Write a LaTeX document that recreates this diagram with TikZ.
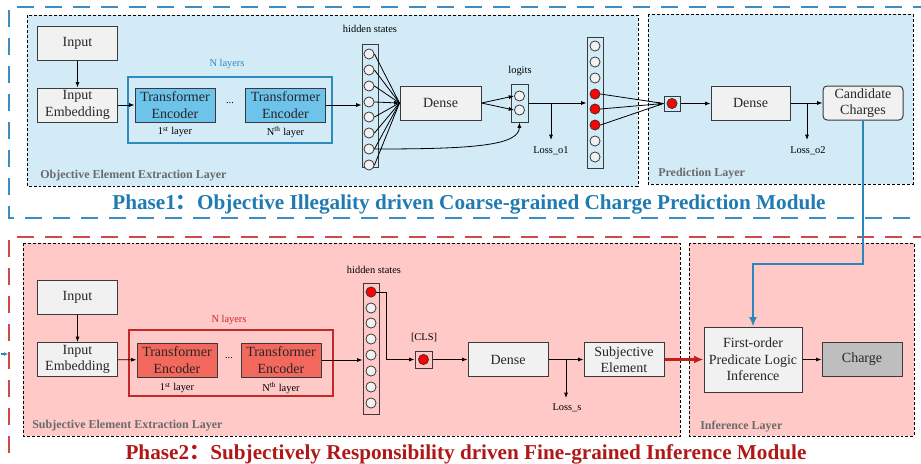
\documentclass[tikz,border=0pt]{standalone}
\usepackage{fontspec}
\setmainfont{Liberation Serif}
\newfontfamily\cjk{Noto Sans CJK SC}
\usetikzlibrary{arrows.meta,calc}
\definecolor{bluebg}{HTML}{D2EBF7}
\definecolor{pinkbg}{HTML}{FFC9C7}
\definecolor{titleblue}{HTML}{1F7BB2}
\definecolor{dashblue}{HTML}{3A8EC4}
\definecolor{teblue}{HTML}{6EC3EB}
\definecolor{nblue}{HTML}{2E8BC0}
\definecolor{titlered}{HTML}{B01818}
\definecolor{dashred}{HTML}{D04848}
\definecolor{tered}{HTML}{F2685C}
\definecolor{nred}{HTML}{C42828}
\definecolor{boxfill}{HTML}{F1F1F1}
\definecolor{boxline}{HTML}{3A3A3A}
\definecolor{chargefill}{HTML}{BEBEBE}
\definecolor{lblgray}{HTML}{6A6A6A}
\definecolor{conblue}{HTML}{2A86BB}
\definecolor{conred}{HTML}{C0201A}
\begin{document}
\begin{tikzpicture}[x=0.75pt,y=-0.75pt,
  box/.style={draw=boxline, fill=boxfill, line width=0.75pt, minimum width=60pt, minimum height=25.5pt, inner sep=0pt, align=center, text=black!85, font=\fontsize{10.5}{12.4}\selectfont},
  tebox/.style={box, fill=teblue},
  terbox/.style={box, fill=tered},
  circ/.style={circle, draw=boxline, fill=boxfill, minimum size=7.6pt, inner sep=0pt, line width=0.6pt},
  rcirc/.style={circ, fill=red},
  colbox/.style={draw=boxline, line width=0.75pt, inner sep=0pt},
  small/.style={font=\fontsize{7.8}{9}\selectfont, inner sep=0pt},
  layer/.style={draw=black, line width=0.6pt, dash pattern=on 2.2pt off 1.5pt},
  layerlbl/.style={font=\bfseries\fontsize{9}{10}\selectfont, text=lblgray, inner sep=0pt, anchor=west},
  arr/.style={-{Latex[length=4pt,width=3pt]}, line width=0.6pt},
  ln/.style={line width=0.6pt},
  outerdash/.style={line width=1.5pt, dash pattern=on 12.75pt off 8.25pt}
]
\useasboundingbox (0,0) rectangle (921,464);
% ---------- Phase 1 ----------
\draw[outerdash, draw=dashblue] (930,7) -- (9,7) -- (9,218) -- (930,218);
\draw[layer, fill=bluebg] (27,15) rectangle (638,186);
\draw[layer, fill=bluebg] (648,14) rectangle (913,184);
\node[layerlbl] (oel) at (40,176) {Objective Element Extraction Layer};
\node[layerlbl] (pl) at (658,174) {Prediction Layer};
\node[font=\bfseries\fontsize{15.9}{18}\selectfont, text=titleblue, inner sep=0pt] (t1) at (469,204) {Phase1{\cjk ：}Objective Illegality driven Coarse-grained Charge Prediction Module};

\node[box] (in1) at (77.5,43) {Input};
\node[box] (em1) at (77.5,105) {Input\\Embedding};
\node[draw=nblue, line width=1.5pt, minimum width=153pt, minimum height=49.5pt, inner sep=0pt] (nl1) at (229.5,110) {};
\node[small, text=nblue] (nt1) at (227,64) {N layers};
\node[tebox] (te1) at (175,105) {Transformer\\Encoder};
\node[tebox] (ten) at (285.5,105) {Transformer\\Encoder};
\node[small] (dots1) at (230,103) {...};
\node[small] (l1a) at (175,132) {1\textsuperscript{st} layer};
\node[small] (l1b) at (285.5,132) {N\textsuperscript{th} layer};
\node[small] (hs1t) at (370,29) {hidden states};
\node[colbox, minimum width=12pt, minimum height=92.25pt] (hs1) at (370,105.5) {};
\foreach \i/\y in {1/54,2/70,3/86,4/102,5/117,6/133,7/149,8/165}
  \node[circ] (h\i) at (369,\y) {};
\node[box, minimum width=60.75pt] (d1) at (440.5,103) {Dense};
\node[small] (lgt) at (520,71) {logits};
\node[colbox, minimum width=12.75pt, minimum height=28.5pt] (lg) at (519.5,103) {};
\node[circ] (g1) at (519.5,96) {};
\node[circ] (g2) at (519.5,110) {};
\node[colbox, minimum width=12pt, minimum height=98.25pt] (c) at (595,102.5) {};
\foreach \i/\y in {1/46,2/62,3/78,7/141,8/157}
  \node[circ] (c\i) at (595,\y) {};
\foreach \i/\y in {4/94,5/109,6/125}
  \node[rcirc] (c\i) at (595,\y) {};
\node[colbox, minimum width=12pt, minimum height=11.25pt] (sb) at (672,103.5) {};
\node[rcirc] (sbc) at (672,103.5) {};
\node[box, minimum width=59.25pt] (d2) at (750.5,103) {Dense};
\node[box, rounded corners=3pt] (cand) at (863,103) {Candidate\\Charges};
\coordinate (b1) at (551,103);
\coordinate (lo1e) at (551,140);
\node[small] (lo1) at (551,151) {Loss\_o1};
\coordinate (b2) at (807,103);
\coordinate (lo2e) at (807,140);
\node[small] (lo2) at (808,151) {Loss\_o2};

\draw[arr] (in1) -- (em1);
\draw[arr] (em1) -- (te1);
\draw[arr] (ten.east) -- (ten.east -| hs1.west);
\foreach \i in {1,2,3,5,6,7,8} \draw[ln] (h\i.east) -- (d1.west);
\draw[arr] (h4.east) -- (d1.west);
\draw[arr] (d1.east) -- (g1.west);
\draw[arr] (d1.east) -- (g2.west);
\draw[arr] (h7.east) .. controls (470,149) and (519,146) .. (lg.south);
\draw[arr] (lg.east) -- (lg.east -| c.west);
\draw[arr] (b1) -- (lo1e);
\draw[ln] (c4.east) -- (sb.west);
\draw[ln] (c6.east) -- (sb.west);
\draw[arr] (c5.east) -- (sb.west);
\draw[arr] (sb.east) -- (sb.east -| d2.west);
\draw[arr] (d2) -- (cand);
\draw[arr] (b2) -- (lo2e);

% ---------- Phase 2 ----------
\draw[outerdash, draw=dashred] (930,237) -- (9,237) -- (9,480);
\draw[layer, fill=pinkbg] (23,243) rectangle (680,436);
\draw[layer, fill=pinkbg] (689,243) rectangle (914,436);
\node[layerlbl] (sel) at (32,426) {Subjective Element Extraction Layer};
\node[layerlbl] (il) at (700,427) {Inference Layer};
\node[font=\bfseries\fontsize{15.9}{18}\selectfont, text=titlered, inner sep=0pt] (t2) at (466,454) {Phase2{\cjk ：}Subjectively Responsibility driven Fine-grained Inference Module};
\coordinate (ta) at (1,354);
\coordinate (tb) at (8,354);
\draw[-{Latex[length=3pt,width=3pt]}, line width=0.8pt, conblue] (ta) -- (tb);

\node[box] (in2) at (77.5,297) {Input};
\node[box] (em2) at (77.5,359.5) {Input\\Embedding};
\node[draw=nred, line width=1.5pt, minimum width=153pt, minimum height=49.5pt, inner sep=0pt] (nl2) at (231,363) {};
\node[small, text=nred] (nt2) at (229,320) {N layers};
\node[terbox] (re1) at (177,360) {Transformer\\Encoder};
\node[terbox] (ren) at (281,360) {Transformer\\Encoder};
\node[small] (dots2) at (229,358) {...};
\node[small] (l2a) at (177,388) {1\textsuperscript{st} layer};
\node[small] (l2b) at (281,388) {N\textsuperscript{th} layer};
\node[small] (hs2t) at (374,270) {hidden states};
\node[colbox, minimum width=12pt, minimum height=98.25pt] (hs2) at (371,348.5) {};
\node[rcirc] (k1) at (371,292) {};
\foreach \i/\y in {2/308,3/323,4/339,5/355,6/371,7/387,8/403}
  \node[circ] (k\i) at (371,\y) {};
\node[small] (clst) at (424,338) {[CLS]};
\node[colbox, minimum width=12.75pt, minimum height=12.75pt] (cls) at (423.5,359.5) {};
\node[rcirc] (clsc) at (423.5,359.5) {};
\node[box] (d3) at (508,359.5) {Dense};
\node[box] (subj) at (624,359.5) {Subjective\\Element};
\node[box, minimum width=73.5pt, minimum height=48.75pt] (fol) at (753,359.5) {First-order\\Predicate Logic\\Inference};
\node[box, fill=chargefill] (chg) at (862,359.5) {Charge};
\coordinate (kb) at (386,292);
\coordinate (b3) at (566,359.5);
\coordinate (lse) at (566,398);
\node[small] (ls) at (567,408) {Loss\_s};
\coordinate (bend) at (863,264);

\draw[arr] (in2) -- (em2);
\draw[arr] (em2) -- (re1);
\draw[arr] (ren.east) -- (ren.east -| hs2.west);
\draw[arr] (k1.east) -- (kb) |- (cls.west);
\draw[arr] (cls) -- (d3);
\draw[arr] (d3) -- (subj);
\draw[arr] (b3) -- (lse);
\draw[-{Latex[length=7pt,width=6pt]}, line width=1.6pt, conred] (subj) -- (fol);
\draw[arr] (fol) -- (chg);
\draw[-{Latex[length=7pt,width=6pt]}, line width=1.6pt, conblue] (cand.south) -- (bend) -| (fol.north);
\end{tikzpicture}
\end{document}
